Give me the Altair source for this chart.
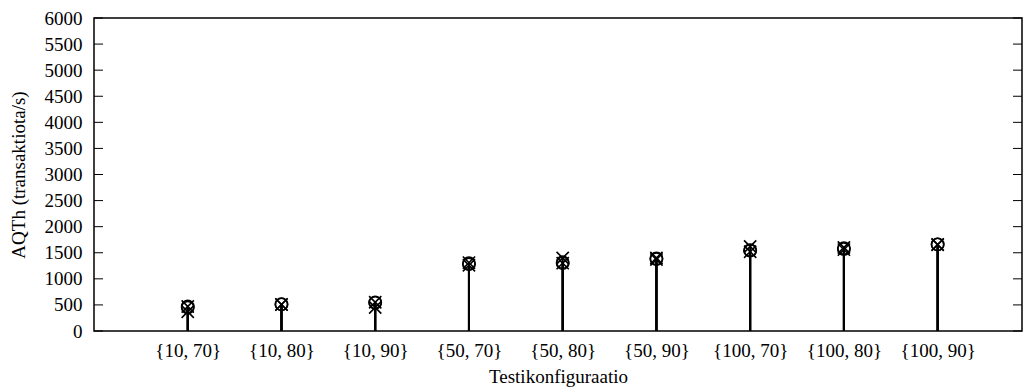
import json
import altair as alt
import pandas as pd

configs = ["{10, 70}", "{10, 80}", "{10, 90}", "{50, 70}", "{50, 80}",
           "{50, 90}", "{100, 70}", "{100, 80}", "{100, 90}"]
# two measurement runs per configuration, drawn as circles
circle_run1 = [470, 515, 550, 1300, 1320, 1390, 1550, 1590, 1660]
circle_run2 = [450, 510, 540, 1280, 1300, 1380, 1540, 1570, 1660]
# two measurement runs per configuration, drawn as crosses
cross_run1 = [470, 510, 550, 1310, 1400, 1400, 1620, 1600, 1660]
cross_run2 = [370, 505, 450, 1260, 1300, 1370, 1520, 1560, 1650]
y_ticks = [0, 500, 1000, 1500, 2000, 2500, 3000, 3500, 4000, 4500, 5000, 5500, 6000]

rows = []
for i in range(len(configs)):
    rows.append({"idx": i, "v": circle_run1[i], "m": "circle"})
    rows.append({"idx": i, "v": circle_run2[i], "m": "circle"})
    rows.append({"idx": i, "v": cross_run1[i], "m": "cross"})
    rows.append({"idx": i, "v": cross_run2[i], "m": "cross"})
df = pd.DataFrame(rows)
ticks_df = pd.DataFrame({"t": y_ticks})

W, H = 928, 313
FONT = "Liberation Serif"

label_expr = json.dumps(configs) + "[datum.value]"

xscale = alt.Scale(domain=[-1, 8.9], nice=False, zero=False)
yscale = alt.Scale(domain=[0, 6000], nice=False)

xaxis = alt.Axis(values=list(range(len(configs))), labelExpr=label_expr,
                 title="Testikonfiguraatio", grid=False, ticks=False,
                 domain=False, labelPadding=10, labelFontSize=19,
                 labelFont=FONT, titleFont=FONT, titleFontSize=19,
                 titleFontWeight="normal", labelColor="black", titleColor="black",
                 labelOverlap=False, labelFlush=False,
                 titleBaseline="top", titleY=36, titleX=W / 2)
yaxis = alt.Axis(values=y_ticks, format="d", title="AQTh (transaktiota/s)", grid=False,
                 ticks=False, domain=False, labelPadding=12, labelFontSize=19,
                 labelFont=FONT, titleFont=FONT, titleFontSize=19,
                 titleFontWeight="normal", labelColor="black", titleColor="black",
                 labelOverlap=False, labelFlush=False,
                 titleAngle=-90, titleBaseline="bottom", titleAlign="center",
                 titleX=-66, titleY=H / 2)

X = alt.X("idx:Q", scale=xscale, axis=xaxis, title="Testikonfiguraatio")
Y = alt.Y("v:Q", scale=yscale, axis=yaxis, title="AQTh (transaktiota/s)")
YT = alt.Y("t:Q", scale=yscale, axis=yaxis, title="AQTh (transaktiota/s)")

base = alt.Chart(df)

left_ticks = alt.Chart(ticks_df).mark_rule(color="black", strokeWidth=1).encode(
    y=YT, x=alt.value(0), x2=alt.value(9))
right_ticks = alt.Chart(ticks_df).mark_rule(color="black", strokeWidth=1).encode(
    y=YT, x=alt.value(W - 9), x2=alt.value(W))

impulses = base.mark_rule(color="black", strokeWidth=2).encode(
    x=X, y=Y, y2=alt.datum(0))

circles = base.transform_filter(alt.datum.m == "circle").mark_point(
    shape="circle", filled=False, size=150, strokeWidth=1.6, color="black", opacity=1
).encode(x=X, y=Y)

crosses = base.transform_filter(alt.datum.m == "cross").mark_point(
    shape="M-1,-1L1,1M1,-1L-1,1", filled=False, size=150, strokeWidth=1.6,
    color="black", opacity=1
).encode(x=X, y=Y)

chart = alt.layer(left_ticks, right_ticks, impulses, circles, crosses).properties(
    width=W, height=H,
    autosize=alt.AutoSizeParams(type="none"),
    padding={"left": 94, "top": 18, "right": 2, "bottom": 56},
    background="white",
).configure_view(stroke="black", strokeWidth=1.5)

chart.save("out.html", embed_options={"renderer": "svg", "actions": False})
